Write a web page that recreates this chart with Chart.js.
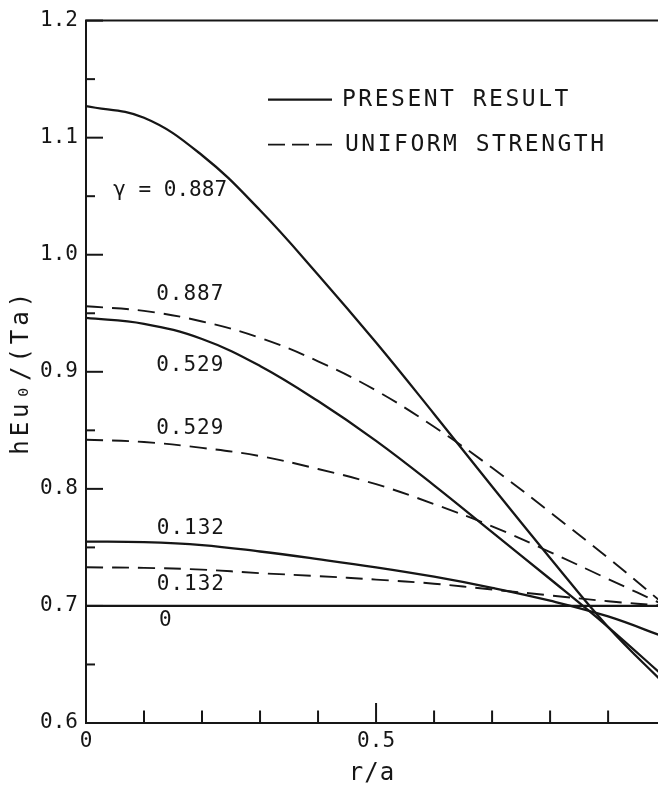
<!DOCTYPE html>
<html>
<head>
<meta charset="utf-8">
<script src="https://cdn.jsdelivr.net/npm/chart.js@4.4.1/dist/chart.umd.min.js"></script>
<style>
html,body{margin:0;padding:0;background:#fff;overflow:hidden}
#wrap{width:658px;height:786px;position:relative}
</style>
</head>
<body>
<div id="wrap"><canvas id="c"></canvas></div>
<script>
// ---- data ----
const rValues      = [0, 0.1, 0.2, 0.3, 0.4, 0.5, 0.6, 0.7, 0.8, 0.9, 1.0];
const presentG887  = [1.127, 1.117, 1.085, 1.038, 0.983, 0.925, 0.864, 0.802, 0.741, 0.682, 0.632];
const presentG529  = [0.946, 0.941, 0.928, 0.905, 0.875, 0.841, 0.803, 0.763, 0.723, 0.682, 0.638];
const presentG132  = [0.755, 0.7545, 0.752, 0.7465, 0.740, 0.733, 0.725, 0.7155, 0.7045, 0.691, 0.673];
const presentG0    = [0.700, 0.700, 0.700, 0.700, 0.700, 0.700, 0.700, 0.700, 0.700, 0.700, 0.700];
const uniformG887  = [0.956, 0.952, 0.943, 0.929, 0.909, 0.884, 0.853, 0.818, 0.780, 0.741, 0.700];
const uniformG529  = [0.842, 0.840, 0.835, 0.828, 0.817, 0.804, 0.787, 0.768, 0.746, 0.723, 0.700];
const uniformG132  = [0.733, 0.7325, 0.731, 0.728, 0.7255, 0.7225, 0.719, 0.714, 0.709, 0.704, 0.700];

const seriesNames  = ['PRESENT RESULT', 'UNIFORM STRENGTH'];
const yTickValues  = [0.6, 0.7, 0.8, 0.9, 1.0, 1.1, 1.2];
const yTickLabels  = ['0.6', '0.7', '0.8', '0.9', '1.0', '1.1', '1.2'];
const yMinorTicks  = [0.65, 0.75, 0.85, 0.95, 1.05, 1.15];
const xTickValues  = [0, 0.5];
const xTickLabels  = ['0', '0.5'];
const xMinorTicks  = [0.1, 0.2, 0.3, 0.4, 0.6, 0.7, 0.8, 0.9];
const xTitle = 'r/a';
const yTitle = 'hEu₀/(Ta)';

// ---- chart ----
const INK = '#161616';
const FAMILY = "'DejaVu Sans Mono', 'Liberation Mono', monospace";
Chart.defaults.font.family = FAMILY;
Chart.defaults.font.weight = 400;
Chart.defaults.color = INK;

const pts = arr => rValues.map((r, i) => ({x: r, y: arr[i]}));
const solid = (label, arr) => ({label, data: pts(arr), borderColor: INK, borderWidth: 2.3,
  pointRadius: 0, tension: 0.4, fill: false});
const dashed = (label, arr) => ({label, data: pts(arr), borderColor: INK, borderWidth: 1.9,
  borderDash: [17, 9], pointRadius: 0, tension: 0.4, fill: false});

const annotations = [
  {text: 'γ = 0.887', r: 0.047, v: 1.055, spacing: 0},
  {text: '0.887', r: 0.121, v: 0.9656, spacing: 1},
  {text: '0.529', r: 0.121, v: 0.9051, spacing: 1},
  {text: '0.529', r: 0.121, v: 0.8514, spacing: 1},
  {text: '0.132', r: 0.122, v: 0.7662, spacing: 1},
  {text: '0.132', r: 0.122, v: 0.7185, spacing: 1},
  {text: '0', r: 0.126, v: 0.6878, spacing: 1}
];

// letter spacing for each axis' title and tick labels
const axisSpacing = {x: {title: '1px', labels: '0px'}, y: {title: '4px', labels: '0px'}};

const decor = {
  id: 'decor',
  beforeDraw(chart) {
    Object.keys(axisSpacing).forEach(id => {
      const s = chart.scales[id];
      if (!s || s.__wrapped) return;
      ['drawTitle', 'drawLabels'].forEach(fn => {
        const orig = s[fn];
        const sp = fn === 'drawTitle' ? axisSpacing[id].title : axisSpacing[id].labels;
        s[fn] = function (...args) {
          const c = this.ctx, prev = c.letterSpacing;
          c.letterSpacing = sp;
          orig.apply(this, args);
          c.letterSpacing = prev;
        };
      });
      s.__wrapped = true;
    });
  },
  afterDraw(chart) {
    const {ctx, chartArea: a, scales: {x, y}} = chart;
    ctx.save();
    ctx.strokeStyle = INK;
    ctx.lineCap = 'butt';
    const seg = (x1, y1, x2, y2, w) => {
      ctx.lineWidth = w; ctx.beginPath(); ctx.moveTo(x1, y1); ctx.lineTo(x2, y2); ctx.stroke();
    };
    // top frame line
    seg(a.left - 1, a.top, a.right, a.top, 2);
    // inward ticks on the y axis
    yTickValues.forEach(v => { const p = y.getPixelForValue(v); seg(a.left, p, a.left + 17, p, 2); });
    yMinorTicks.forEach(v => { const p = y.getPixelForValue(v); seg(a.left, p, a.left + 9, p, 2); });
    // inward ticks on the x axis
    xTickValues.forEach(v => { const p = x.getPixelForValue(v); seg(p, a.bottom, p, a.bottom - 20, 2); });
    xMinorTicks.forEach(v => { const p = x.getPixelForValue(v); seg(p, a.bottom, p, a.bottom - 12.5, 2); });

    // curve labels
    ctx.fillStyle = INK;
    ctx.textBaseline = 'middle';
    ctx.textAlign = 'left';
    ctx.font = `400 21px ${FAMILY}`;
    annotations.forEach(t => {
      ctx.letterSpacing = t.spacing + 'px';
      ctx.fillText(t.text, x.getPixelForValue(t.r), y.getPixelForValue(t.v));
    });

    // legend
    const lx1 = a.left + 182, lx2 = a.left + 246;
    const ly1 = a.top + 79, ly2 = a.top + 124;
    seg(lx1, ly1, lx2, ly1, 2.3);
    ctx.setLineDash([17, 7]);
    seg(lx1, ly2, lx2, ly2, 1.9);
    ctx.setLineDash([]);
    ctx.font = `400 23px ${FAMILY}`;
    ctx.letterSpacing = '2.5px';
    ctx.fillText(seriesNames[0], a.left + 256, ly1);
    ctx.fillText(seriesNames[1], a.left + 259, ly2);
    ctx.restore();
  }
};

new Chart(document.getElementById('c'), {
  type: 'line',
  data: {
    datasets: [
      solid('Present result, γ = 0.887', presentG887),
      solid('Present result, γ = 0.529', presentG529),
      solid('Present result, γ = 0.132', presentG132),
      solid('Present result, γ = 0', presentG0),
      dashed('Uniform strength, γ = 0.887', uniformG887),
      dashed('Uniform strength, γ = 0.529', uniformG529),
      dashed('Uniform strength, γ = 0.132', uniformG132)
    ]
  },
  options: {
    responsive: true,
    maintainAspectRatio: false,
    animation: false,
    events: [],
    layout: {padding: {top: 19, right: 0, left: 0, bottom: 0}},
    plugins: {legend: {display: false}, tooltip: {enabled: false}},
    scales: {
      x: {
        type: 'linear', min: 0, max: 0.986,
        afterFit: s => { s.height = 63; },
        afterBuildTicks: s => { s.ticks = xTickValues.map(v => ({value: v})); },
        ticks: {callback: (v, i) => xTickLabels[i], padding: 6, font: {size: 21}, maxRotation: 0},
        grid: {display: false, drawTicks: false},
        border: {display: true, color: INK, width: 2},
        title: {display: true, text: xTitle, font: {size: 24, lineHeight: 1}, padding: {top: 0, bottom: 0}}
      },
      y: {
        type: 'linear', min: 0.6, max: 1.2,
        afterFit: s => { s.width = 86; },
        afterBuildTicks: s => { s.ticks = yTickValues.map(v => ({value: v})); },
        ticks: {callback: (v, i) => yTickLabels[i], padding: 8, font: {size: 21}},
        grid: {display: false, drawTicks: false},
        border: {display: true, color: INK, width: 2},
        title: {display: true, text: yTitle, font: {size: 24, lineHeight: 1}, padding: {top: 10, bottom: 0}}
      }
    }
  },
  plugins: [decor]
});
</script>
</body>
</html>
